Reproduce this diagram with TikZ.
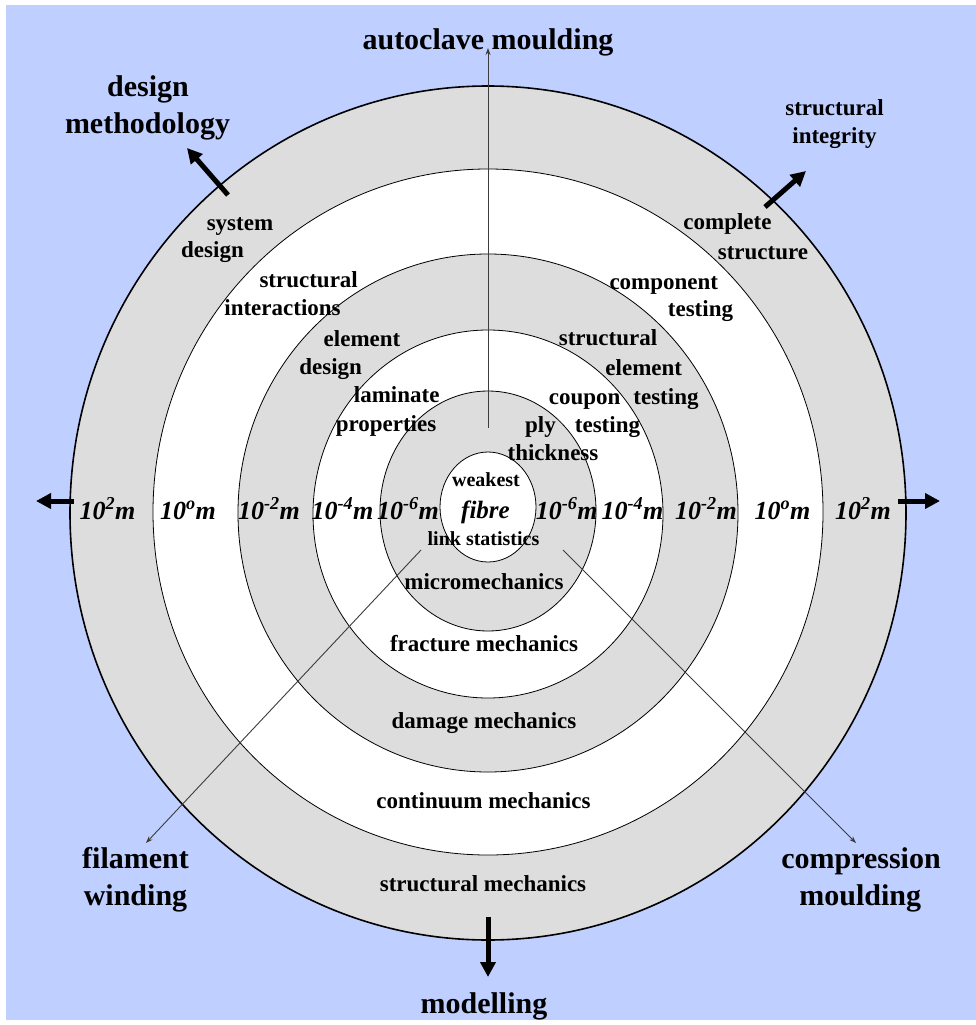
\documentclass[tikz,border=0pt]{standalone}
\usepackage{fontspec}
\setmainfont{Liberation Serif}
\usetikzlibrary{arrows.meta}
\definecolor{bgblue}{RGB}{191,207,255}
\definecolor{ringgray}{RGB}{221,221,221}
\definecolor{thinline}{RGB}{60,60,60}
\begin{document}
\begin{tikzpicture}[x=1pt,y=-1pt,
  big/.style={font=\fontsize{30}{36}\selectfont\bfseries, inner sep=0pt, anchor=base},
  mid/.style={font=\fontsize{23}{28}\selectfont\bfseries, inner sep=0pt, anchor=base},
  small/.style={font=\fontsize{20}{24}\selectfont\bfseries, inner sep=0pt, anchor=base},
  fib/.style={font=\fontsize{25}{30}\selectfont\bfseries\itshape, inner sep=0pt, anchor=base},
  scl/.style={font=\fontsize{26}{30}\selectfont\bfseries\itshape, inner sep=0pt, anchor=base},
  ringline/.style={draw=black, line width=0.8pt},
  fatarrow/.style={draw=black, line width=5pt, -{Triangle[length=15pt,width=15pt]}},
  thinarrow/.style={draw=thinline, line width=0.9pt, -{Stealth[length=7pt,width=5pt]}},
]
\useasboundingbox (0,0) rectangle (976,1025);
\fill[white] (0,0) rectangle (976,1025);
\fill[bgblue] (6,5) rectangle (976,1020);

% rings
\filldraw[fill=ringgray, draw=black, line width=1.6pt] (488,513) ellipse [x radius=418pt, y radius=427pt];
\filldraw[fill=white, ringline] (488,512) ellipse [x radius=335pt, y radius=343pt];
\filldraw[fill=ringgray, ringline] (488,513) ellipse [x radius=250pt, y radius=259pt];
\filldraw[fill=white, ringline] (488,514) ellipse [x radius=175pt, y radius=184pt];
\filldraw[fill=ringgray, ringline] (488,511) ellipse [x radius=108pt, y radius=120pt];
\filldraw[fill=white, ringline] (488,507) ellipse [x radius=48pt, y radius=55pt];

% coordinates for connectors
\coordinate (vstart) at (488,428);
\coordinate (vend) at (488,48);
\coordinate (lstart) at (421,550);
\coordinate (lend) at (146,843);
\coordinate (rstart) at (563,550);
\coordinate (rend) at (856,843);
\coordinate (aLs) at (74,501);
\coordinate (aLe) at (36,501);
\coordinate (aRs) at (898,501);
\coordinate (aRe) at (940,501);
\coordinate (aBs) at (488,917);
\coordinate (aBe) at (488,977);
\coordinate (aTLs) at (228,195);
\coordinate (aTLe) at (187,148);
\coordinate (aTRs) at (765,207);
\coordinate (aTRe) at (806,171);

\draw[thinarrow] (vstart) -- (vend);
\draw[thinarrow] (lstart) -- (lend);
\draw[thinarrow] (rstart) -- (rend);
\draw[fatarrow] (aLs) -- (aLe);
\draw[fatarrow] (aRs) -- (aRe);
\draw[fatarrow] (aBs) -- (aBe);
\draw[fatarrow] (aTLs) -- (aTLe);
\draw[fatarrow] (aTRs) -- (aTRe);

% outer labels
\node[big] (autoclave) at (488,49) {autoclave moulding};
\node[big] (dm1) at (148,96) {design};
\node[big] (dm2) at (147.5,133) {methodology};
\node[mid] (si1) at (834.5,115) {structural};
\node[mid] (si2) at (834.5,143) {integrity};
\node[big] (fw1) at (135.5,868) {filament};
\node[big] (fw2) at (135.5,905) {winding};
\node[big] (cm1) at (861,868) {compression};
\node[big] (cm2) at (860.3,905) {moulding};
\node[big] (modelling) at (484,1013) {modelling};

% left ring labels
\node[mid] (sd1) at (240,230) {system};
\node[mid] (sd2) at (212.5,257) {design};
\node[mid] (sint1) at (308.7,287) {structural};
\node[mid] (sint2) at (282.5,315) {interactions};
\node[mid] (ed1) at (362,346) {element};
\node[mid] (ed2) at (330.7,374) {design};
\node[mid] (lp1) at (396.7,402) {laminate};
\node[mid] (lp2) at (386,431) {properties};

% right ring labels
\node[mid] (cs1) at (727.5,229) {complete};
\node[mid] (cs2) at (763,259) {structure};
\node[mid] (ct1) at (663.8,289) {component};
\node[mid] (ct2) at (700.5,316) {testing};
\node[mid] (se1) at (608,345) {structural};
\node[mid] (se2) at (643.8,375) {element};
\node[mid] (cp1) at (584.7,404) {coupon};
\node[mid] (cp2) at (666,404) {testing};
\node[mid] (pt1) at (540.5,432) {ply};
\node[mid] (pt2) at (607.5,432) {testing};
\node[mid] (pt3) at (553,460) {thickness};

% inner labels
\node[small] (weak) at (486,486) {weakest};
\node[fib] (fibre) at (485.5,518) {fibre};
\node[small] (link) at (483.5,545) {link statistics};

% bottom ring labels
\node[mid] (micro) at (484,589) {micromechanics};
\node[mid] (fract) at (484,651) {fracture mechanics};
\node[mid] (damage) at (484,728) {damage mechanics};
\node[mid] (contin) at (483.5,808) {continuum mechanics};
\node[mid] (struct) at (483,891) {structural mechanics};

% scale labels
\node[scl] (sL2) at (107.5,519) {10\textsuperscript{2}m};
\node[scl] (sL0) at (188,519) {10\textsuperscript{o}m};
\node[scl] (sLm2) at (269,519) {10\textsuperscript{-2}m};
\node[scl] (sLm4) at (342.5,519) {10\textsuperscript{-4}m};
\node[scl] (sLm6) at (408,519) {10\textsuperscript{-6}m};
\node[scl] (sRm6) at (566.7,519) {10\textsuperscript{-6}m};
\node[scl] (sRm4) at (632.5,519) {10\textsuperscript{-4}m};
\node[scl] (sRm2) at (706,519) {10\textsuperscript{-2}m};
\node[scl] (sR0) at (782.5,519) {10\textsuperscript{o}m};
\node[scl] (sR2) at (863,519) {10\textsuperscript{2}m};
\end{tikzpicture}
\end{document}
